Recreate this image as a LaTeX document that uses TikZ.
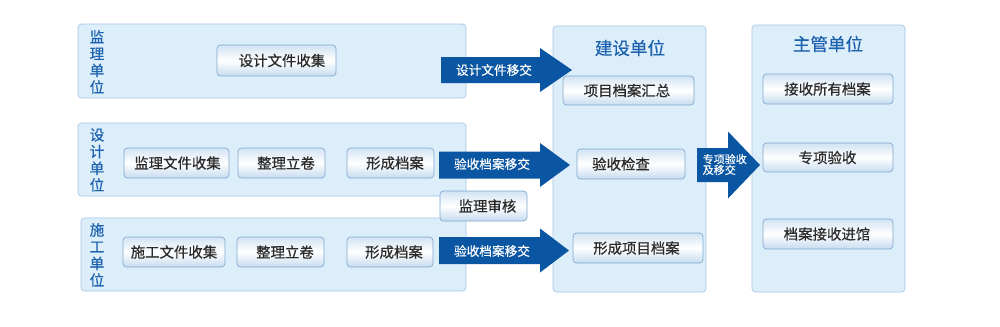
\documentclass[tikz,border=0pt]{standalone}
\usepackage{fontspec}
\setmainfont{Noto Sans CJK SC}
\newfontfamily\boldish[FakeBold=0.6]{Noto Sans CJK SC}
\newfontfamily\semibold[FakeBold=0.35]{Noto Sans CJK SC}
\usetikzlibrary{fit}
\definecolor{panelfill}{HTML}{DDEEFB}
\definecolor{paneldraw}{HTML}{A3C8E8}
\definecolor{boxdraw}{HTML}{7FA9CF}
\definecolor{boxshade}{HTML}{C6DCF0}
\definecolor{arrowblue}{HTML}{0A56A2}
\definecolor{titleblue}{HTML}{1D62AE}
\definecolor{textgray}{HTML}{2A2A2A}
\tikzset{
  panel/.style={draw=paneldraw, fill=panelfill, rounded corners=3pt, line width=0.6pt, inner sep=0pt},
  itembox/.style={draw=boxdraw, rounded corners=3pt, line width=0.6pt, inner sep=0pt,
     top color=boxshade!80, bottom color=boxshade, middle color=white},
  boxtext/.style={text=textgray, font=\boldish\fontsize{12.3}{14}\selectfont, inner sep=0pt},
  arrtext/.style={text=white, font=\semibold\fontsize{10.8}{13}\selectfont, inner sep=0pt},
  vlabel/.style={text=titleblue, font=\boldish\fontsize{12.5}{14.3}\selectfont, align=center, inner sep=0pt},
  ptitle/.style={text=titleblue, font=\semibold\fontsize{15}{18}\selectfont, inner sep=0pt},
  blockarrow/.style={fill=arrowblue}
}
% #1 name, #2 x1, #3 y1, #4 x2, #5 y2
\newcommand\panelbox[5]{\node[panel, fit={(#2,#3)(#4,#5)}] (#1) {};}
% #1 name, #2 x1, #3 y1, #4 x2, #5 y2, #6 text x, #7 text
\newcommand\itemnode[7]{\node[itembox, fit={(#2,#3)(#4,#5)}] (#1) {};
  \node[boxtext] (#1-t) at (#6,{(#3+#5)/2}) {#7};}
% #1 left, #2 head start, #3 tip, #4 y centre, #5 body half, #6 head half
\newcommand\blockarr[6]{\fill[blockarrow] (#1,#4-#5) -- (#2,#4-#5) -- (#2,#4-#6) -- (#3,#4)
  -- (#2,#4+#6) -- (#2,#4+#5) -- (#1,#4+#5) -- cycle;}
\begin{document}
\begin{tikzpicture}[x=0.3mm,y=-0.3mm]
\useasboundingbox[fill=white] (0,0) rectangle (1000,326);
% panels
\panelbox{pjl}{78}{24}{466}{98}
\panelbox{psj}{78}{123}{466}{196}
\panelbox{psg}{81}{218}{466}{291}
\panelbox{pjs}{553}{26}{706}{292}
\panelbox{pzg}{752}{25}{905}{292}
% vertical labels
\node[vlabel] (ljl) at (97,62) {监\\理\\单\\位};
\node[vlabel] (lsj) at (97,160) {设\\计\\单\\位};
\node[vlabel] (lsg) at (97,255) {施\\工\\单\\位};
\node[ptitle] (tjs) at (630,48) {建设单位};
\node[ptitle] (tzg) at (828,44) {主管单位};
% arrows
\blockarr{441}{540}{572}{70}{13}{22}
\node[arrtext] (a1) at (494,70) {设计文件移交};
\blockarr{439}{540}{570}{165}{13.5}{22}
\node[arrtext] (a2) at (492,164) {验收档案移交};
\blockarr{439}{540}{569}{250.5}{13.5}{22}
\node[arrtext] (a3) at (492,251) {验收档案移交};
\blockarr{697}{728}{760}{165}{17}{33.5}
\node[text=white, font=\semibold\fontsize{9.4}{9.2}\selectfont, align=left, inner sep=0pt, anchor=west] (a4) at (702.5,164.5) {专项验收\\及移交};
% boxes row 1
\itemnode{b1}{217}{45}{336}{76}{282}{设计文件收集}
% row 2
\itemnode{b21}{124}{148}{229}{178}{177.5}{监理文件收集}
\itemnode{b22}{238}{148}{325}{178}{286}{整理立卷}
\itemnode{b23}{347}{148}{434}{178}{395}{形成档案}
\itemnode{bsh}{440}{191}{527}{221}{487.5}{监理审核}
% row 3
\itemnode{b31}{123}{237}{225}{267}{174}{施工文件收集}
\itemnode{b32}{237}{237}{324}{267}{285}{整理立卷}
\itemnode{b33}{347}{237}{433}{267}{394}{形成档案}
% construction unit
\itemnode{c1}{563}{76}{694}{105}{627}{项目档案汇总}
\itemnode{c2}{577}{149}{685}{179}{621}{验收检查}
\itemnode{c3}{573}{233}{703}{263}{636.5}{形成项目档案}
% authority
\itemnode{d1}{763}{74}{893}{104}{827.5}{接收所有档案}
\itemnode{d2}{763}{143}{893}{172}{827.5}{专项验收}
\itemnode{d3}{763}{219}{893}{249}{827}{档案接收进馆}
\end{tikzpicture}
\end{document}
